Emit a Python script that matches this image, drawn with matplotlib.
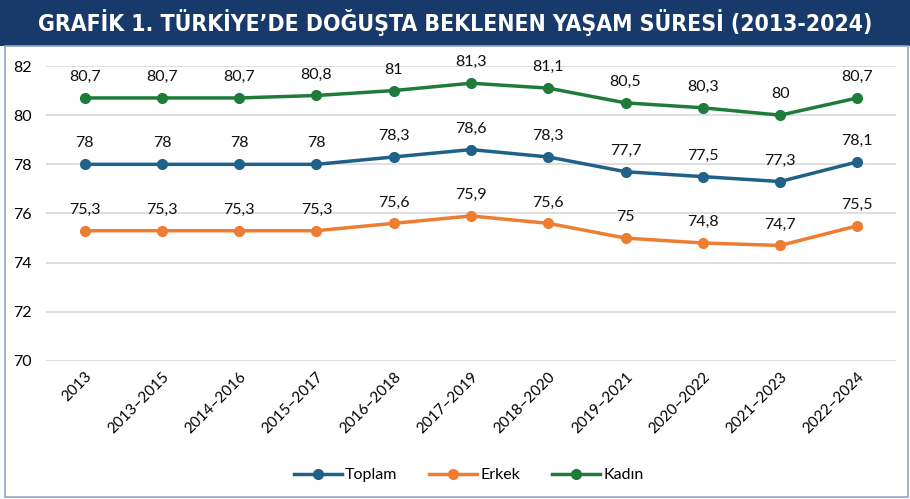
import matplotlib.pyplot as plt
from matplotlib.patches import Rectangle

periods = ['2013', '2013–2015', '2014–2016', '2015–2017', '2016–2018', '2017–2019',
           '2018–2020', '2019–2021', '2020–2022', '2021–2023', '2022–2024']
toplam = [78, 78, 78, 78, 78.3, 78.6, 78.3, 77.7, 77.5, 77.3, 78.1]
erkek = [75.3, 75.3, 75.3, 75.3, 75.6, 75.9, 75.6, 75, 74.8, 74.7, 75.5]
kadin = [80.7, 80.7, 80.7, 80.8, 81, 81.3, 81.1, 80.5, 80.3, 80, 80.7]
yticks = [70, 72, 74, 76, 78, 80, 82]

title = 'GRAFİK 1. TÜRKİYE’DE DOĞUŞTA BEKLENEN YAŞAM SÜRESİ (2013-2024)'

plt.rcParams['font.family'] = ['Lato', 'DejaVu Sans']

fig = plt.figure(figsize=(9.1, 4.99), dpi=100)

# title band and frame
fig.patches.append(Rectangle((0, 1 - 46/499), 1, 46/499, transform=fig.transFigure,
                             facecolor='#173a6b', edgecolor='none', zorder=0))
fig.patches.append(Rectangle((5/910, 2/499), 903/910, 451/499, transform=fig.transFigure,
                             facecolor='none', edgecolor='#8ea6c8', lw=1.2, zorder=0))
fig.text(0.5, 1 - 23/499, title, color='white', fontsize=16.5, fontweight='bold',
         ha='center', va='center', family=['DejaVu Sans'], fontstretch='condensed')

ax = fig.add_axes([46/910, 1 - 361/499, 850/910, 295/499])
x = range(len(periods))
series = [('Toplam', toplam, '#1f6188'), ('Erkek', erkek, '#ed7d31'), ('Kadın', kadin, '#1e7b3a')]
for name, vals, col in series:
    ax.plot(x, vals, color=col, lw=2.5, marker='o', ms=7, label=name, zorder=3)
    for i, v in enumerate(vals):
        ax.annotate(('%g' % v).replace('.', ','), (i, v), xytext=(0, 10), textcoords='offset points',
                    ha='center', va='bottom', fontsize=11.5, color='#111111')

ax.set_ylim(70, 82)
ax.set_xlim(-0.5, len(periods) - 0.5)
ax.set_yticks(yticks)
ax.set_xticks(list(x))
ax.set_xticklabels(periods, rotation=45, ha='right', rotation_mode='anchor', fontsize=11)
ax.tick_params(axis='y', labelsize=11.5, length=0, pad=10)
ax.tick_params(axis='x', length=0, pad=6)
ax.grid(axis='y', color='#d9d9d9', lw=1.2)
ax.set_axisbelow(True)
for s in ax.spines.values():
    s.set_visible(False)

fig.legend(loc='center', bbox_to_anchor=(0.515, 1 - 475/499), ncol=3, frameon=False,
           fontsize=11.5, handlelength=3, columnspacing=2, handletextpad=0.2)

fig.savefig('out.png', dpi=100)
